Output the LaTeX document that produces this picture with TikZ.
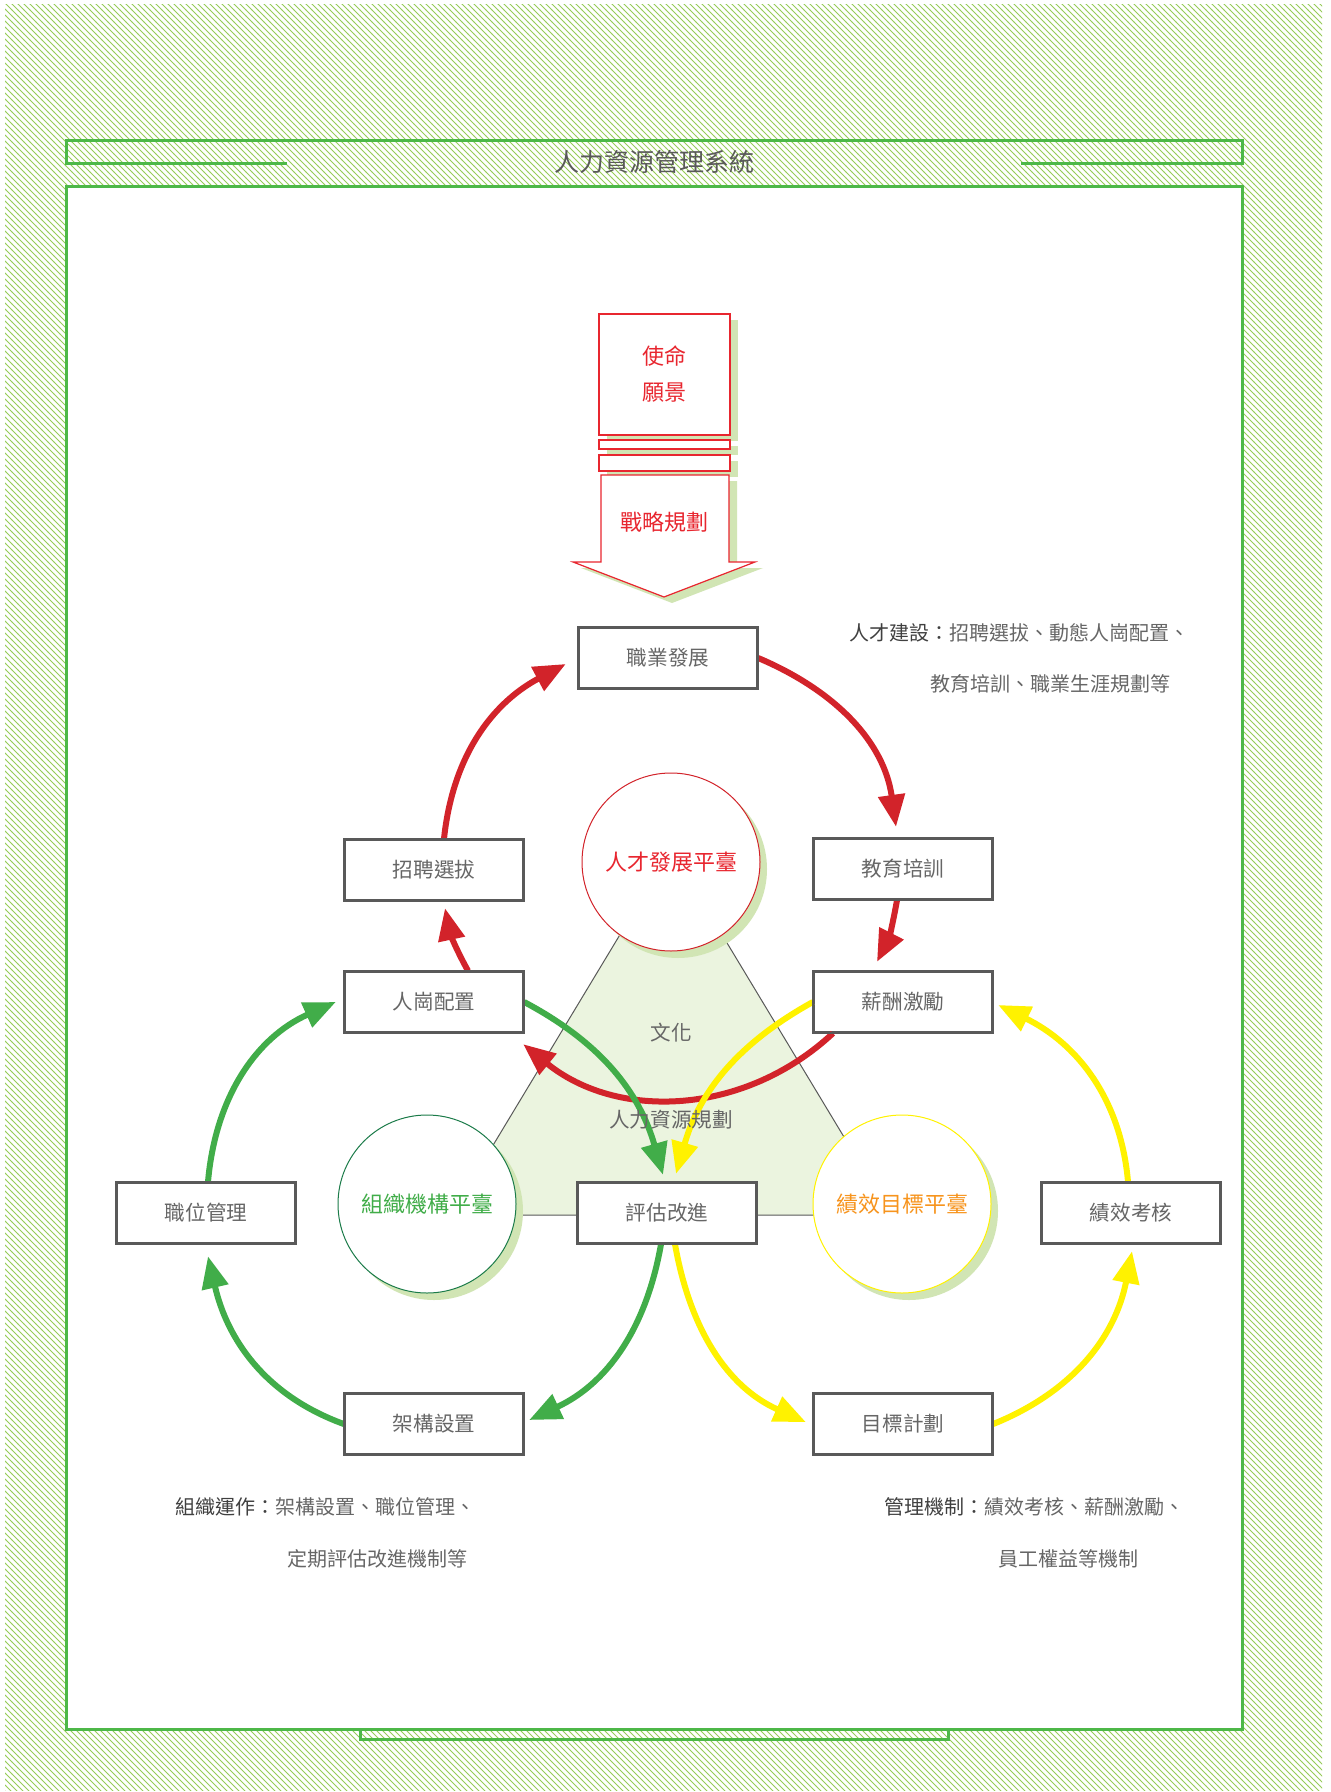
\documentclass[tikz,border=0pt]{standalone}
\usepackage{fontspec}
\setmainfont{Noto Sans CJK TC}
\usetikzlibrary{arrows.meta, positioning, patterns, shadows, calc}
\usepackage{xcolor}
\definecolor{framegreen}{RGB}{77, 184, 72}
\definecolor{hatchgreen}{RGB}{150, 204, 88}
\definecolor{shadowgreen}{RGB}{209, 229, 180}
\definecolor{trifill}{RGB}{235, 244, 223}
\definecolor{mainred}{RGB}{210, 35, 42}
\definecolor{textred}{RGB}{232, 38, 47}
\definecolor{maingreen}{RGB}{65, 173, 73}
\definecolor{darkgreen}{RGB}{27, 123, 73}
\definecolor{mainyellow}{RGB}{255, 242, 0}
\definecolor{textorange}{RGB}{247, 148, 29}
\definecolor{boxgray}{RGB}{89, 89, 89}
\definecolor{textgray}{RGB}{102, 102, 102}
\definecolor{notedark}{RGB}{64, 64, 64}

\begin{document}
\begin{tikzpicture}[x=0.5pt, y=0.5pt,
  hrbox/.style={draw=boxgray, line width=1.2pt, fill=white, minimum width=89pt, minimum height=30pt, text=textgray, font=\fontsize{10.3}{12}\selectfont},
  platform/.style={circle, fill=white, line width=0.5pt, minimum size=89pt, inner sep=0pt, font=\fontsize{11}{13}\selectfont, drop shadow={shadow xshift=3.5pt, shadow yshift=-3.5pt, fill=shadowgreen, opacity=1}},
  greenshadow/.style={drop shadow={shadow xshift=4pt, shadow yshift=-3pt, fill=shadowgreen, opacity=1}},
  flow/.style={line width=3pt, -{Triangle[length=16pt, width=13pt]}},
  note/.style={anchor=west, text=textgray, font=\fontsize{10}{12}\selectfont},
  frameline/.style={framegreen, line width=1.5pt}]
\useasboundingbox (0,0) rectangle (1330,-1792);
\fill[pattern=north west lines, pattern color=hatchgreen] (5,-5) rectangle (1322,-1790);
\draw[frameline, fill=white] (66,-187) rectangle (1242,-1729);
\draw[frameline] (360,-1729) -- (360,-1739) -- (948,-1739) -- (948,-1729);
\draw[frameline] (287,-164) -- (66,-164) -- (66,-141) -- (1242,-141) -- (1242,-164) -- (1021,-164);
\node[text=boxgray, font=\fontsize{12.5}{14}\selectfont] (title) at (654,-162) {人力資源管理系統};

\node[draw=textred, line width=0.6pt, fill=white, minimum width=65.5pt, minimum height=60.5pt, align=center, text=textred, font=\fontsize{11}{18}\selectfont, greenshadow] (mission) at (664.5,-374.5) {使命\\願景};
\draw[textred, line width=0.6pt, fill=white, greenshadow] (599,-440) rectangle (730,-449);
\draw[textred, line width=0.6pt, fill=white, greenshadow] (599,-455) rectangle (730,-471);
\draw[textred, line width=0.6pt, fill=white, greenshadow] (601,-475) -- (729,-475) -- (729,-562) -- (755,-562) -- (664,-597) -- (573,-562) -- (601,-562) -- cycle;
\node[text=textred, font=\fontsize{11}{13}\selectfont] (strategy) at (664,-522) {戰略規劃};

\draw[boxgray, line width=0.5pt, fill=trifill] (671,-850) -- (451,-1215) -- (891,-1215) -- cycle;

\node[platform, draw=mainred, text=textred] (talent) at (671,-862) {人才發展平臺};
\node[platform, draw=darkgreen, text=maingreen] (org) at (427,-1204) {組織機構平臺};
\node[platform, draw=mainyellow, text=textorange] (perf) at (902,-1204) {績效目標平臺};

\node[hrbox] (career) at (668,-658) {職業發展};
\node[hrbox] (recruit) at (434,-870) {招聘選拔};
\node[hrbox] (training) at (903,-869) {教育培訓};
\node[hrbox] (placement) at (434,-1002) {人崗配置};
\node[hrbox] (salary) at (903,-1002) {薪酬激勵};
\node[hrbox] (position) at (206,-1213) {職位管理};
\node[hrbox] (evaluate) at (667,-1213) {評估改進};
\node[hrbox] (appraisal) at (1131,-1213) {績效考核};
\node[hrbox] (structure) at (434,-1424) {架構設置};
\node[hrbox] (goal) at (903,-1424) {目標計劃};

\draw[flow, mainred] ($(recruit.north)+(10,0)$) to[out=84, in=208] ($(career.west)+(-12,-6)$);
\draw[flow, mainred] (career.east) to[out=-23, in=98] ($(training.north)+(-7,11)$);
\draw[flow, mainred] ($(training.south)+(-6,0)$) to[out=-100, in=63] ($(salary.north)+(-26,9)$);
\draw[flow, mainred] ($(salary.south)+(-70,0)$) to[out=-137, in=-39] ($(placement.south east)+(-1,-11)$);
\draw[flow, mainred] ($(placement.north)+(34,0)$) to[out=119, in=-78] ($(recruit.south)+(11,-7)$);
\draw[flow, maingreen] ($(position.north)+(2,0)$) to[out=85, in=204] ($(placement.west)+(-8,0)$);
\draw[flow, maingreen] (placement.east) to[out=-28, in=106] ($(evaluate.north)+(-4,7)$);
\draw[flow, maingreen] ($(evaluate.south)+(-6,0)$) to[out=-100, in=25] ($(structure.east)+(5,4)$);
\draw[flow, maingreen] (structure.west) to[out=160, in=-77] ($(position.south)+(2,-12)$);
\draw[flow, mainyellow] (salary.west) to[out=209, in=74] ($(evaluate.north)+(9,8)$);
\draw[flow, mainyellow] ($(evaluate.south)+(8,0)$) to[out=-80, in=156] ($(goal.west)+(-7,2)$);
\draw[flow, mainyellow] (goal.east) to[out=22, in=-101] ($(appraisal.south)+(1,-7)$);
\draw[flow, mainyellow] ($(appraisal.north)+(-3,0)$) to[out=95, in=-26] ($(salary.east)+(5,-3)$);

\foreach \n in {career, recruit, training, placement, salary, position, evaluate, appraisal, structure, goal}
  \draw[draw=boxgray, line width=1.2pt] (\n.south west) rectangle (\n.north east);

\node[text=textgray, font=\fontsize{10.3}{12}\selectfont] (culture) at (671,-1033) {文化};
\node[text=textgray, font=\fontsize{10.3}{12}\selectfont] (planning) at (671,-1120) {人力資源規劃};

\node[note] (talentnote) at (842,-633) {\textcolor{notedark}{人才建設：}招聘選拔、動態人崗配置、};
\node[note] (talentnote2) at (923,-684) {教育培訓、職業生涯規劃等};
\node[note] (orgnote) at (168,-1507) {\textcolor{notedark}{組織運作：}架構設置、職位管理、};
\node[note] (orgnote2) at (280,-1559) {定期評估改進機制等};
\node[note] (perfnote) at (877,-1507) {\textcolor{notedark}{管理機制：}績效考核、薪酬激勵、};
\node[note] (perfnote2) at (991,-1559) {員工權益等機制};
\end{tikzpicture}
\end{document}
